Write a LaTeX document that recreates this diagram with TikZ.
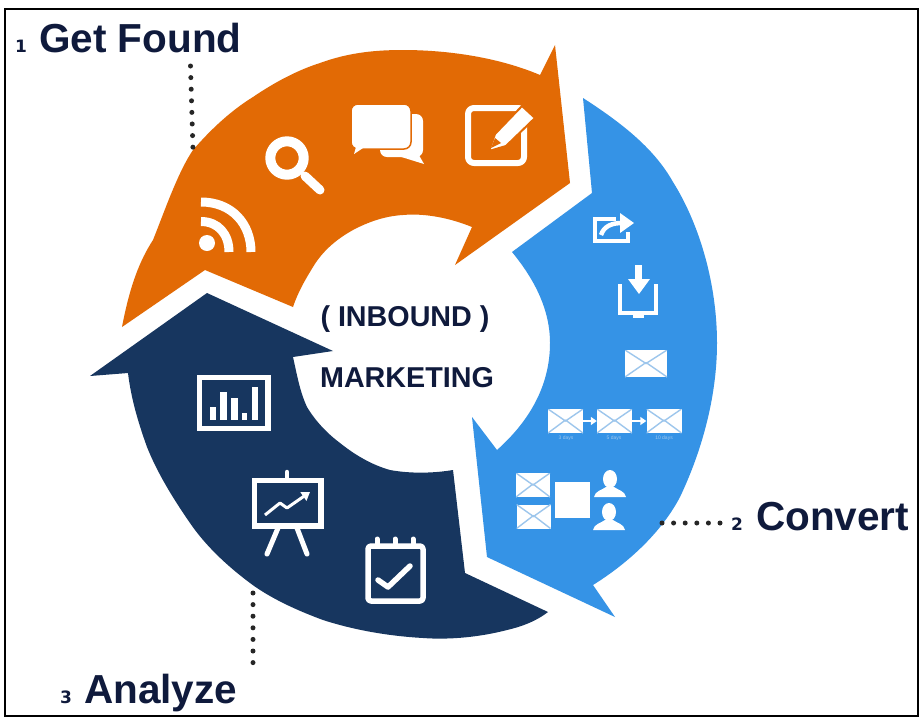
\documentclass[tikz,border=0pt]{standalone}
\usepackage{fontspec}
\setmainfont{Liberation Sans}
\newfontfamily\numfont{DejaVu Sans}
\usepackage{tikz}
\usetikzlibrary{arrows.meta}

\definecolor{foundcol}{HTML}{E26A05}
\definecolor{convertcol}{HTML}{3593E6}
\definecolor{analyzecol}{HTML}{17365F}
\definecolor{inkcol}{HTML}{0F1A3C}
\definecolor{mailline}{HTML}{9DC6EC}

\tikzset{
  steplabel/.style={anchor=base west,inner sep=0pt,text=inkcol,font=\fontsize{40.5}{44}\selectfont\bfseries},
  stepnum/.style={anchor=base,inner sep=0pt,text=inkcol,font=\fontsize{17}{20}\numfont\bfseries},
  hublabel/.style={anchor=base,inner sep=0pt,text=inkcol,font=\fontsize{28.7}{32}\selectfont\bfseries},
  dotline/.style={line width=5pt,line cap=round,dash pattern=on 0pt off 11.6pt,black!85},
  iconline/.style={draw=white,line width=#1,line cap=round,line join=round},
  mail/.style 2 args={fill=white,inner sep=0pt,minimum width=#1,minimum height=#2,
    path picture={
      \draw[mailline,line width=1.4pt]
        (path picture bounding box.north west) -- (path picture bounding box.center)
        -- (path picture bounding box.north east)
        (path picture bounding box.south west) -- ([yshift=1pt]path picture bounding box.center)
        (path picture bounding box.south east) -- ([yshift=1pt]path picture bounding box.center);
    }},
  daylabel/.style={inner sep=0pt,text=mailline,font=\fontsize{5}{6}\selectfont},
}

\begin{document}
\begin{tikzpicture}[x=1pt,y=-1pt]
\useasboundingbox (0,0) rectangle (923,721);
\fill[white] (0,0) rectangle (923,721);
\draw[black,line width=2pt] (4.5,8.5) rectangle (918,716);

% three arrows
\fill[foundcol] (122,327) .. controls (130,285) and (140,260) .. (153,240)
  .. controls (165,210) and (178,172) .. (193,150)
  .. controls (212,128) and (232,110) .. (253,97)
  .. controls (275,82) and (298,70) .. (320,63)
  .. controls (350,52) and (378,50) .. (403,50)
  .. controls (450,50) and (500,58) .. (540,75)
  -- (555,45) -- (570,183) -- (455,265) -- (472,227)
  .. controls (450,218) and (425,213) .. (403,215)
  .. controls (385,216) and (368,222) .. (353,230)
  .. controls (335,240) and (322,252) .. (313,267)
  .. controls (305,280) and (298,292) .. (293,307)
  -- (205,270) -- cycle;

\fill[convertcol] (583,98) .. controls (625,125) and (655,150) .. (673,182)
  .. controls (700,225) and (717,285) .. (717,343)
  .. controls (717,400) and (700,455) .. (680,497)
  .. controls (660,535) and (625,565) .. (593,585)
  -- (615,617) -- (487,557) -- (472,417) -- (497,450)
  .. controls (525,425) and (550,390) .. (550,343)
  .. controls (550,310) and (535,280) .. (512,252)
  -- (592,193) -- cycle;

\fill[analyzecol] (207,293) -- (333,351) -- (293,357)
  .. controls (297,375) and (300,392) .. (307,407)
  .. controls (316,422) and (328,434) .. (340,443)
  .. controls (355,455) and (372,465) .. (390,470)
  .. controls (412,474) and (435,473) .. (453,470)
  -- (465,573) -- (548,612)
  .. controls (535,622) and (520,627) .. (507,630)
  .. controls (480,637) and (450,640) .. (423,638)
  .. controls (388,636) and (354,630) .. (323,620)
  .. controls (296,610) and (270,598) .. (250,583)
  .. controls (226,565) and (205,545) .. (190,523)
  .. controls (172,497) and (157,472) .. (147,447)
  .. controls (138,422) and (131,398) .. (128,373)
  -- (90,376) -- cycle;

% labels and dots
\node[steplabel] (found) at (39,52) {Get Found};
\node[stepnum] (foundnum) at (21,52) {1};
\node[steplabel] (convert) at (756,530) {Convert};
\node[stepnum] (convertnum) at (737,530) {2};
\node[steplabel] (analyze) at (84,703) {Analyze};
\node[stepnum] (analyzenum) at (66,703) {3};
\node[hublabel] (inbound) at (405,326) {( INBOUND )};
\node[hublabel] (marketing) at (407,387) {MARKETING};

\coordinate (founddots) at (190.5,66);
\coordinate (foundend) at (193,150);
\coordinate (convertdots) at (662,523);
\coordinate (convertend) at (722,523);
\coordinate (analyzedots) at (253,593);
\coordinate (analyzeend) at (253,665);
\draw[dotline] (founddots) -- (foundend);
\draw[dotline] (convertdots) -- (convertend);
\draw[dotline] (analyzedots) -- (analyzeend);

% rss
\fill[white] (207,243) circle [radius=8];
\draw[iconline=9pt,line cap=butt] (201,221.5) .. controls (218,221.5) and (229,234) .. (229,252);
\draw[iconline=9pt,line cap=butt] (201,202) .. controls (232,202) and (251,224) .. (251,252);

% search
\draw[iconline=10pt] (287,158) circle [radius=16.7];
\draw[iconline=9pt] (305,176) -- (320,190);

% chat
\fill[white,rounded corners=7pt] (380,114) rectangle (423,157);
\fill[white] (395,155) -- (424,164) -- (416,150) -- cycle;
\fill[white,draw=foundcol,line width=1.5pt,rounded corners=7pt] (351,104) rectangle (411,149);
\fill[white] (366,146) -- (354,154) -- (358,140) -- cycle;

% edit
\draw[iconline=6pt,rounded corners=6pt] (468,108) rectangle (524,163);
\fill[white,draw=foundcol,line width=2pt] (489,151) -- (495,134) -- (522,106) -- (535,118) -- (506,146) -- cycle;
\fill[foundcol] (491,148) -- (495,138) -- (501,143) -- cycle;

% share
\draw[iconline=4.5pt,line cap=butt,line join=miter] (616,219) -- (595,219) -- (595,241) -- (628,241) -- (628,232);
\draw[iconline=4.5pt,line cap=butt] (601,235) .. controls (604,226) and (612,223) .. (622,223);
\fill[white] (620,213) -- (634,223) -- (620,233) -- cycle;

% download
\draw[iconline=4pt,line cap=butt,line join=miter] (620,284) -- (620,313) -- (656,313) -- (656,284);
\fill[white] (633,314) rectangle (644,318);
\fill[white] (635,265) rectangle (642,280);
\fill[white] (628,279) -- (650,279) -- (639,294) -- cycle;

% mail
\node[mail={42pt}{27pt}] (mailsingle) at (646,363.5) {};
\node[mail={35pt}{24pt}] (mailfirst) at (565.5,421) {};
\node[mail={35pt}{24pt}] (mailsecond) at (614.5,421) {};
\node[mail={35pt}{24pt}] (mailthird) at (664,421) {};
\draw[white,line width=2.5pt,-{Triangle[length=6pt,width=8pt]}] (mailfirst) -- (mailsecond);
\draw[white,line width=2.5pt,-{Triangle[length=6pt,width=8pt]}] (mailsecond) -- (mailthird);
\node[daylabel] at (566,438) {3 days};
\node[daylabel] at (614,438) {5 days};
\node[daylabel] at (664,438) {10 days};
\node[mail={34pt}{24pt}] (mailtop) at (533,485) {};
\node[mail={34pt}{24pt}] (mailbottom) at (533.5,516.5) {};

% square and people
\fill[white] (555,482) rectangle (590,518);
\foreach \x/\y in {610/470,609/503}{
  \fill[white] (\x,\y+9) ellipse [x radius=7,y radius=9];
  \fill[white] (\x-16,\y+27) .. controls (\x-15,\y+21) and (\x-8,\y+20) .. (\x-4,\y+17)
    -- (\x+4,\y+17) .. controls (\x+8,\y+20) and (\x+15,\y+21) .. (\x+16,\y+27) -- cycle;
}

% chart
\draw[iconline=5.5pt,line cap=butt,line join=miter] (199.5,377.5) rectangle (268,428.5);
\foreach \x/\w/\y in {210/6/407,220/7/392,231/7/398,242/5/413,252/6/387}
  \fill[white] (\x,\y) rectangle (\x+\w,420);

% easel
\draw[iconline=5.5pt,line cap=butt,line join=miter] (254.5,480.5) rectangle (321,526);
\draw[iconline=4.5pt] (287,472) -- (287,480);
\draw[iconline=5pt] (278,528) -- (267,554);
\draw[iconline=5pt] (297,528) -- (307,554);
\draw[white,line width=3pt,line join=round,-{Triangle[length=8pt,width=10pt]}] (265,515) -- (280,503) -- (287,508) -- (310,492);

% calendar
\draw[iconline=5.5pt,rounded corners=3pt] (368,546) rectangle (423,601);
\foreach \x in {377,395,413}
  \draw[iconline=5pt] (\x,539) -- (\x,546);
\draw[iconline=5.5pt] (378,580) -- (388,587) -- (410,566);
\end{tikzpicture}
\end{document}
